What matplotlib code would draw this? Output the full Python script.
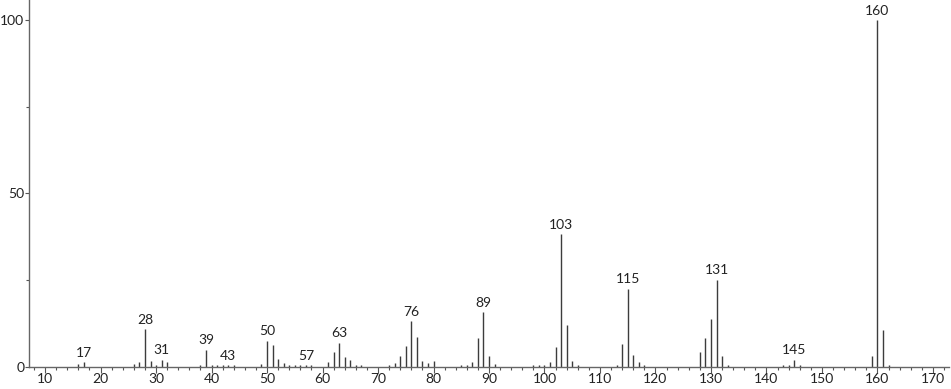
import matplotlib
matplotlib.use("Agg")
import matplotlib.pyplot as plt
from matplotlib.ticker import MultipleLocator, FixedLocator
from matplotlib.transforms import offset_copy

plt.rcParams['font.family'] = ['Lato', 'DejaVu Sans']

mz = [16, 17, 26, 27, 28, 29, 30, 31, 32,
      38, 39, 40, 41, 42, 43, 44,
      49, 50, 51, 52, 53, 54, 55, 56, 57, 58,
      61, 62, 63, 64, 65, 66, 67,
      72, 73, 74, 75, 76, 77, 78, 79, 80,
      85, 86, 87, 88, 89, 90, 91,
      98, 99, 100, 101, 102, 103, 104, 105, 106,
      113, 114, 115, 116, 117, 118,
      128, 129, 130, 131, 132, 133,
      143, 144, 145, 146,
      159, 160, 161, 162]
intensity = [0.8, 1.2, 0.7, 1.2, 10.7, 1.7, 0.3, 1.9, 1.2,
             0.3, 4.8, 0.4, 0.4, 0.4, 0.4, 0.3,
             0.7, 7.5, 6.1, 2.2, 0.9, 0.4, 0.3, 0.3, 0.4, 0.3,
             1.3, 4.2, 6.9, 2.8, 1.8, 0.5, 0.4,
             0.5, 0.9, 3.0, 5.8, 13.0, 8.5, 1.7, 0.9, 1.7,
             0.3, 0.4, 1.2, 8.2, 15.6, 3.0, 0.7,
             0.4, 0.4, 0.5, 1.2, 5.6, 38.2, 11.9, 1.6, 0.4,
             0.5, 6.4, 22.4, 3.4, 1.3, 0.5,
             4.1, 8.2, 13.6, 25.0, 3.1, 0.4,
             0.3, 0.4, 1.9, 0.3,
             3.0, 100.0, 10.4, 0.3]
labelled = [17, 28, 31, 39, 43, 50, 57, 63, 76, 89, 103, 115, 131, 145, 160]

W, H = 951, 389
fig = plt.figure(figsize=(W / 100, H / 100), dpi=100)
ax = fig.add_axes([29 / W, (H - 366.5) / H, (949 - 29) / W, 366.5 / H])

ax.vlines(mz, 0, intensity, colors='#3c3c3c', linewidth=1.0)

lookup = dict(zip(mz, intensity))
trans = offset_copy(ax.transData, fig=fig, x=0, y=4, units='points')
for m in labelled:
    ax.text(m, lookup.get(m, 0.3), str(m), transform=trans, ha='center',
            va='baseline', fontsize=10, color='#222222')

ax.set_xlim(7.1, 172.9)
ax.set_ylim(0, 105.8)

ax.xaxis.set_major_locator(MultipleLocator(10))
ax.xaxis.set_minor_locator(MultipleLocator(2))
ax.yaxis.set_major_locator(FixedLocator([0, 50, 100]))
ax.yaxis.set_minor_locator(FixedLocator([25, 75]))

for s in ['top', 'right']:
    ax.spines[s].set_visible(False)
for s in ['left', 'bottom']:
    ax.spines[s].set_color('#666666')
    ax.spines[s].set_linewidth(1.0)

ax.tick_params(axis='x', which='major', direction='out', length=4,
               width=0.8, color='#555555', labelsize=10, labelcolor='#222222', pad=1)
ax.tick_params(axis='y', which='major', direction='out', length=3,
               width=0.8, color='#555555', labelsize=10, labelcolor='#222222', pad=0.3)
ax.tick_params(axis='both', which='minor', direction='out', length=2,
               width=0.8, color='#555555')

fig.savefig('out.png', dpi=100)
